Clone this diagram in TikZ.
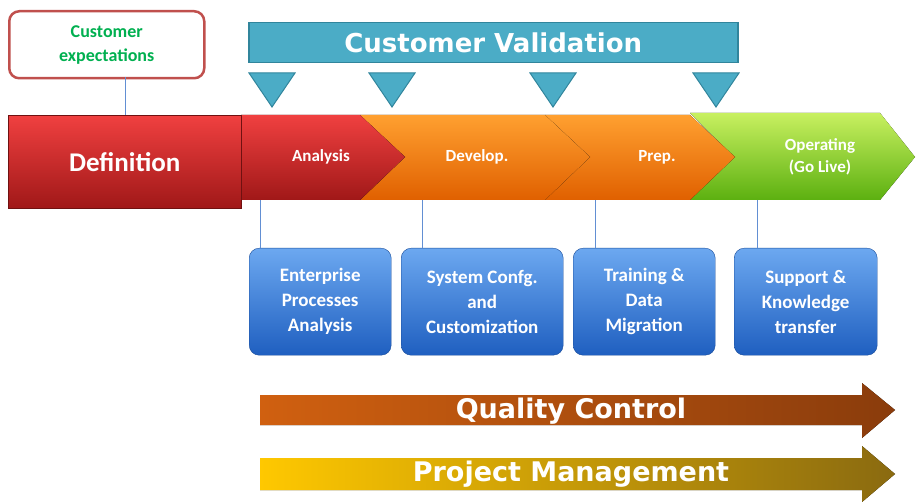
\documentclass[tikz,border=0pt]{standalone}
\usepackage{fontspec}
\setmainfont{Carlito}
\newfontfamily\vfont{DejaVu Sans}
\usetikzlibrary{shapes.geometric}
\definecolor{teal1}{HTML}{4BACC6}
\definecolor{teal2}{HTML}{31859C}
\definecolor{redA}{HTML}{F04040}
\definecolor{redB}{HTML}{A01818}
\definecolor{orA}{HTML}{FFA030}
\definecolor{orB}{HTML}{E06000}
\definecolor{grA}{HTML}{C8F060}
\definecolor{grB}{HTML}{5CB010}
\definecolor{blA}{HTML}{6CA8F0}
\definecolor{blB}{HTML}{1F5FC0}
\definecolor{qcA}{HTML}{D06010}
\definecolor{qcB}{HTML}{8A3C0C}
\definecolor{pmA}{HTML}{FFC800}
\definecolor{pmB}{HTML}{8A6A10}
\definecolor{bord}{HTML}{C0504D}
\definecolor{grn}{HTML}{00B050}
\tikzset{
 lbl/.style={text=white,font=\bfseries\fontsize{17}{22}\selectfont,align=center},
 bluebox/.style={draw=blB!80!black,rounded corners=10pt,top color=blA,bottom color=blB,minimum width=142pt,minimum height=107pt,anchor=north west,text=white,font=\bfseries\fontsize{19}{25}\selectfont,align=center},
 tri/.style={fill=teal1,draw=teal2,line width=1pt},
 thin/.style={draw=blB!70,line width=0.6pt}
}
\begin{document}
\begin{tikzpicture}[x=1pt,y=-1pt]
\useasboundingbox (0,0) rectangle (923,502);
% customer expectations
\node[draw=bord,line width=2.5pt,rounded corners=10pt,fill=white,minimum width=195pt,minimum height=67pt,anchor=north west,text=grn,font=\bfseries\fontsize{18}{24}\selectfont,align=center] (ce) at (8,10) {Customer\\expectations};
\coordinate (ceb) at (125,115);
\draw[thin] (125,77) -- (ceb);
% customer validation
\node[fill=teal1,draw=teal2,line width=1.5pt,minimum width=489pt,minimum height=40pt,anchor=north west,text=white,font=\vfont\bfseries\fontsize{26}{30}\selectfont] (cv) at (248,22) {Customer Validation};
\foreach \x in {272,392,553,716}{\draw[tri] (\x-23,73) -- (\x+23,73) -- (\x,107) -- cycle;}
% chevrons
\fill[top color=grA,bottom color=grB] (690,113) -- (880,113) -- (915,157) -- (880,200) -- (690,200) -- (734,157) -- cycle;
\fill[top color=orA,bottom color=orB] (545,115) -- (690,115) -- (735,157) -- (690,200) -- (545,200) -- (590,157) -- cycle;
\fill[top color=orA,bottom color=orB] (360,115) -- (545,115) -- (590,157) -- (545,200) -- (360,200) -- (405,157) -- cycle;
\fill[top color=redA,bottom color=redB] (241,115) -- (360,115) -- (405,157) -- (360,200) -- (241,200) -- cycle;
\node[lbl] (an) at (321,157) {Analysis};
\node[lbl] (dv) at (477,157) {Develop.};
\node[lbl] (pr) at (657,157) {Prep.};
\node[lbl] (op) at (820,157) {Operating\\(Go Live)};
\node[draw=redB!70!black,top color=redA,bottom color=redB,minimum width=233pt,minimum height=93pt,anchor=north west,text=white,font=\bfseries\fontsize{27}{30}\selectfont] (df) at (8,115) {Definition};
% blue boxes
\node[bluebox] (b1) at (249,248) {Enterprise\\Processes\\Analysis};
\node[bluebox,minimum width=162pt] (b2) at (401,248) {System Confg.\\and\\Customization};
\node[bluebox] (b3) at (573,248) {Training \&\\Data\\Migration};
\node[bluebox,minimum width=143pt] (b4) at (734,248) {Support \&\\Knowledge\\transfer};
\draw[thin] (260,200) -- (260,248);
\draw[thin] (422,200) -- (422,248);
\draw[thin] (595,200) -- (595,248);
\draw[thin] (757,200) -- (757,248);
% arrows
\fill[left color=qcA,right color=qcB] (260,395) -- (862,395) -- (862,383) -- (895,410) -- (862,438) -- (862,425) -- (260,425) -- cycle;
\node[text=white,font=\vfont\bfseries\fontsize{27}{30}\selectfont] (qc) at (571,411) {Quality Control};
\fill[left color=pmA,right color=pmB] (260,458) -- (862,458) -- (862,446) -- (895,474) -- (862,502) -- (862,490) -- (260,490) -- cycle;
\node[text=white,font=\vfont\bfseries\fontsize{27}{30}\selectfont] (pm) at (571,474) {Project Management};
\end{tikzpicture}
\end{document}
